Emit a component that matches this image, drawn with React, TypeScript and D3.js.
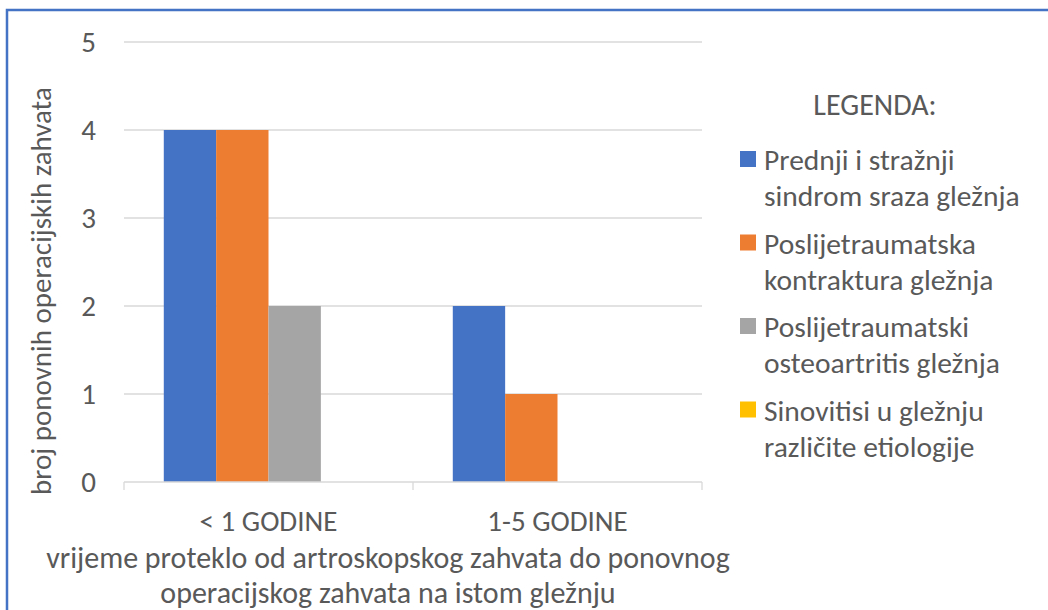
import React, { useEffect, useRef } from "react";
import * as d3 from "d3";

const categories = ["< 1 GODINE", "1-5 GODINE"];
const seriesNames = [
  ["Prednji i stražnji", "sindrom sraza gležnja"],
  ["Poslijetraumatska", "kontraktura gležnja"],
  ["Poslijetraumatski", "osteoartritis gležnja"],
  ["Sinovitisi u gležnju", "različite etiologije"],
];
const seriesColors = ["#4472C4", "#ED7D31", "#A5A5A5", "#FFC000"];
// values[series][category]
const impingement = [4, 2];
const contracture = [4, 1];
const osteoarthritis = [2, 0];
const synovitis = [0, 0];
const values = [impingement, contracture, osteoarthritis, synovitis];
const yTicks = [0, 1, 2, 3, 4, 5];

const FONT = "Carlito, Calibri, 'Open Sans', sans-serif";
const TEXT = "#595959";

export default function App() {
  const ref = useRef<SVGSVGElement>(null);

  useEffect(() => {
    const svg = d3.select(ref.current);
    svg.selectAll("*").remove();

    const left = 124, right = 702, top = 42, bottom = 482;

    const x0 = d3.scaleBand().domain(categories).range([left, right]).paddingInner(0).paddingOuter(0);
    const x1 = d3.scaleBand().domain(d3.range(4).map(String)).range([0, x0.bandwidth()]).paddingOuter(0.76).paddingInner(0);
    const y = d3.scaleLinear().domain([0, 5]).range([bottom, top]);

    // border
    svg.append("path").attr("d", "M7,610 V10 H1048").attr("fill", "none")
      .attr("stroke", "#4472C4").attr("stroke-width", 2.5);

    // gridlines
    svg.append("g").selectAll("line").data(yTicks.filter(t => t > 0)).join("line")
      .attr("x1", left).attr("x2", right)
      .attr("y1", d => y(d)).attr("y2", d => y(d))
      .attr("stroke", "#D9D9D9").attr("stroke-width", 1.3);

    // y tick labels
    svg.append("g").selectAll("text").data(yTicks).join("text")
      .attr("x", 96).attr("y", d => y(d)).attr("dy", "0.35em")
      .attr("text-anchor", "end").attr("font-family", FONT).attr("font-size", 29)
      .attr("fill", TEXT).text(d => d);

    // bars
    const groups = svg.append("g").selectAll("g").data(categories).join("g")
      .attr("transform", d => `translate(${x0(d)},0)`);
    groups.selectAll("rect")
      .data((c, ci) => values.map((s, si) => ({ si, v: s[ci] })))
      .join("rect")
      .attr("x", d => x1(String(d.si))!)
      .attr("width", x1.bandwidth())
      .attr("y", d => y(d.v))
      .attr("height", d => bottom - y(d.v))
      .attr("fill", d => seriesColors[d.si]);

    // x axis
    const ax = svg.append("g").attr("stroke", "#D9D9D9").attr("stroke-width", 1.3).attr("fill", "none");
    ax.append("line").attr("x1", left).attr("x2", right).attr("y1", bottom).attr("y2", bottom);
    [left, left + x0.bandwidth(), right].forEach(px => {
      ax.append("line").attr("x1", px).attr("x2", px).attr("y1", bottom).attr("y2", bottom + 8);
    });

    // category labels
    svg.append("g").selectAll("text").data(categories).join("text")
      .attr("x", d => x0(d)! + x0.bandwidth() / 2).attr("y", 531)
      .attr("text-anchor", "middle").attr("font-family", FONT).attr("font-size", 29)
      .attr("fill", TEXT).text(d => d);

    // x title
    const xt = svg.append("text").attr("text-anchor", "middle").attr("font-family", FONT)
      .attr("font-size", 30).attr("fill", TEXT);
    xt.append("tspan").attr("x", 388).attr("y", 568).text("vrijeme proteklo od artroskopskog zahvata do ponovnog");
    xt.append("tspan").attr("x", 388).attr("y", 603).text("operacijskog zahvata na istom gležnju");

    // y title
    svg.append("text").attr("transform", `translate(51,291) rotate(-90)`)
      .attr("text-anchor", "middle").attr("font-family", FONT).attr("font-size", 29)
      .attr("fill", TEXT).text("broj ponovnih operacijskih zahvata");

    // legend
    const lg = svg.append("g");
    lg.append("text").attr("x", 875).attr("y", 115).attr("text-anchor", "middle")
      .attr("font-family", FONT).attr("font-size", 30).attr("fill", TEXT).text("LEGENDA:");
    seriesNames.forEach((lines, i) => {
      const yy = 159 + i * 83.5;
      lg.append("rect").attr("x", 740).attr("y", yy - 8).attr("width", 16).attr("height", 16)
        .attr("fill", seriesColors[i]);
      const t = lg.append("text").attr("font-family", FONT).attr("font-size", 29.5).attr("fill", TEXT);
      lines.forEach((ln, j) => {
        t.append("tspan").attr("x", 764).attr("y", yy + 11 + j * 36).text(ln);
      });
    });
  }, []);

  return (
    <svg ref={ref} width={1048} height={610}
      style={{ position: "absolute", left: 0, top: 0, background: "#fff" }} />
  );
}
